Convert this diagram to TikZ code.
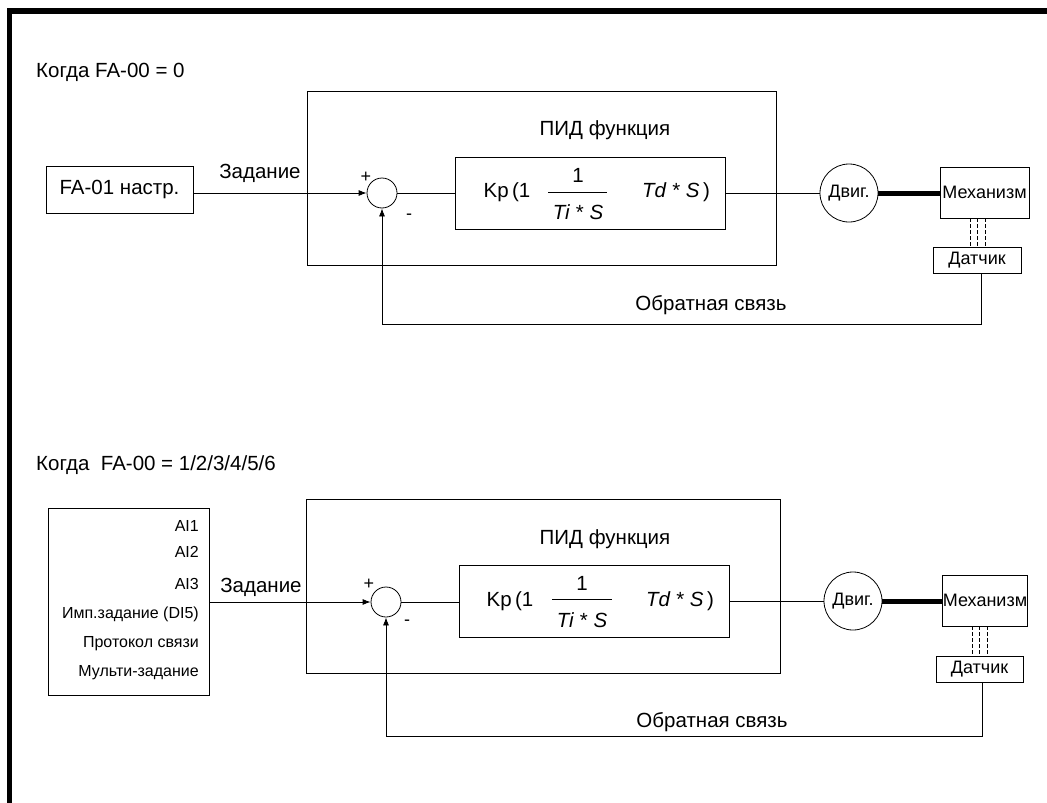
\documentclass[tikz,border=0pt]{standalone}
\usepackage{fontspec}
\setmainfont{Liberation Sans}
\usetikzlibrary{arrows.meta}
\begin{document}
\begin{tikzpicture}[x=1pt,y=-1pt,
  box/.style={draw,line width=0.8pt,inner sep=0pt,rectangle},
  txt/.style={inner sep=0pt,font=\fontsize{20.5}{24}\selectfont},
  small/.style={inner sep=0pt,font=\fontsize{16}{19}\selectfont},
  sign/.style={inner sep=0pt,font=\fontsize{18}{21}\selectfont},
  mid/.style={inner sep=0pt,font=\fontsize{18}{22}\selectfont},
  sumc/.style={draw,circle,minimum size=30pt,inner sep=0pt,line width=0.8pt},
  motor/.style={draw,circle,minimum size=58pt,inner sep=0pt,line width=0.8pt,font=\fontsize{18}{22}\selectfont},
  wire/.style={line width=0.8pt},
  arr/.style={wire,-{Latex[length=8pt,width=6pt]}},
  shaft/.style={line width=5pt},
  dsh/.style={line width=0.9pt,dash pattern=on 4pt off 2pt}]
\useasboundingbox (0,0) rectangle (1047,803);
\fill[white] (0,0) rectangle (1047,803);
\draw[line width=5.5pt] (9.5,803) -- (9.5,11) -- (1047,11);

% ---------- top diagram ----------
\node[txt,anchor=west] (t1) at (36,72) {Когда FA-00 = 0};
\node[box,txt,minimum width=147pt,minimum height=47pt] (fa) at (119.5,189.5) {FA-01 настр.};
\node[box,minimum width=469pt,minimum height=174pt] (pid1) at (541.5,178) {};
\node[txt] (pidl1) at (605,130) {ПИД функция};
\node[box,minimum width=270pt,minimum height=72pt] (in1) at (590,193) {};
\node[sumc] (s1) at (382,193) {};
\node[txt] (kp1) at (507,192) {Kp\,(1};
\node[txt] (n1) at (578,175) {1};
\draw[wire] (548,192) -- (607,192);
\node[txt] (d1) at (578,212) {\textit{Ti} * \textit{S}};
\node[txt] (td1) at (676,192) {\textit{Td} * \textit{S}\,)};
\node[motor] (m1) at (849,193) {Двиг.};
\node[box,mid,minimum width=89pt,minimum height=51pt] (me1) at (984.5,192.5) {Механизм};
\node[box,mid,minimum width=88pt,minimum height=26pt] (da1) at (977,260) {Датчик};
\node[txt] (z1) at (260,173) {Задание};
\node[txt] (fb1) at (711,305) {Обратная связь};
\node[sign] (p1) at (366,177) {+};
\node[sign] (mi1) at (409,217) {-};
\draw[arr] (fa.east |- s1.west) -- (s1.west);
\draw[wire] (s1.east) -- (in1.west |- s1.east);
\draw[wire] (in1.east) -- (m1.west);
\draw[shaft] (m1.east) -- (me1.west |- m1.east);
\foreach \xx in {970,977,985} \draw[dsh] (\xx,218) -- (\xx,247);
\coordinate (fbs1) at (981,273);
\draw[arr] (fbs1) -- (981,324) -| (s1.south);

% ---------- bottom diagram ----------
\node[txt,anchor=west] (t2) at (36,465) {Когда\ \ FA-00 = 1/2/3/4/5/6};
\node[box,minimum width=161pt,minimum height=187pt] (src) at (128.5,601.5) {};
\node[small,anchor=east] (a1) at (199,526) {AI1};
\node[small,anchor=east] (a2) at (199,552) {AI2};
\node[small,anchor=east] (a3) at (199,584) {AI3};
\node[small,anchor=east] (a4) at (199,614) {Имп.задание (DI5)};
\node[small,anchor=east] (a5) at (199,644) {Протокол связи};
\node[small,anchor=east] (a6) at (199,673) {Мульти-задание};
\node[box,minimum width=474pt,minimum height=174pt] (pid2) at (543,586) {};
\node[txt] (pidl2) at (605,539) {ПИД функция};
\node[box,minimum width=270pt,minimum height=72pt] (in2) at (594,601) {};
\node[sumc] (s2) at (386,602) {};
\node[txt] (kp2) at (510,601) {Kp\,(1};
\node[txt] (n2) at (582,583) {1};
\draw[wire] (552,599) -- (612,599);
\node[txt] (d2) at (582,620) {\textit{Ti} * \textit{S}};
\node[txt] (td2) at (680,601) {\textit{Td} * \textit{S}\,)};
\node[motor] (m2) at (853,601) {Двиг.};
\node[box,mid,minimum width=84pt,minimum height=51pt] (me2) at (985,600.5) {Механизм};
\node[box,mid,minimum width=87pt,minimum height=26pt] (da2) at (979.5,669) {Датчик};
\node[txt] (z2) at (261,587) {Задание};
\node[txt] (fb2) at (712,722) {Обратная связь};
\node[sign] (p2) at (369,584) {+};
\node[sign] (mi2) at (407,623) {-};
\draw[arr] (src.east |- s2.west) -- (s2.west);
\draw[wire] (s2.east) -- (in2.west |- s2.east);
\draw[wire] (in2.east |- m2.west) -- (m2.west);
\draw[shaft] (m2.east) -- (me2.west |- m2.east);
\foreach \xx in {972,979,987} \draw[dsh] (\xx,626) -- (\xx,656);
\coordinate (fbs2) at (982,682);
\draw[arr] (fbs2) -- (982,736) -| (s2.south);
\end{tikzpicture}
\end{document}
